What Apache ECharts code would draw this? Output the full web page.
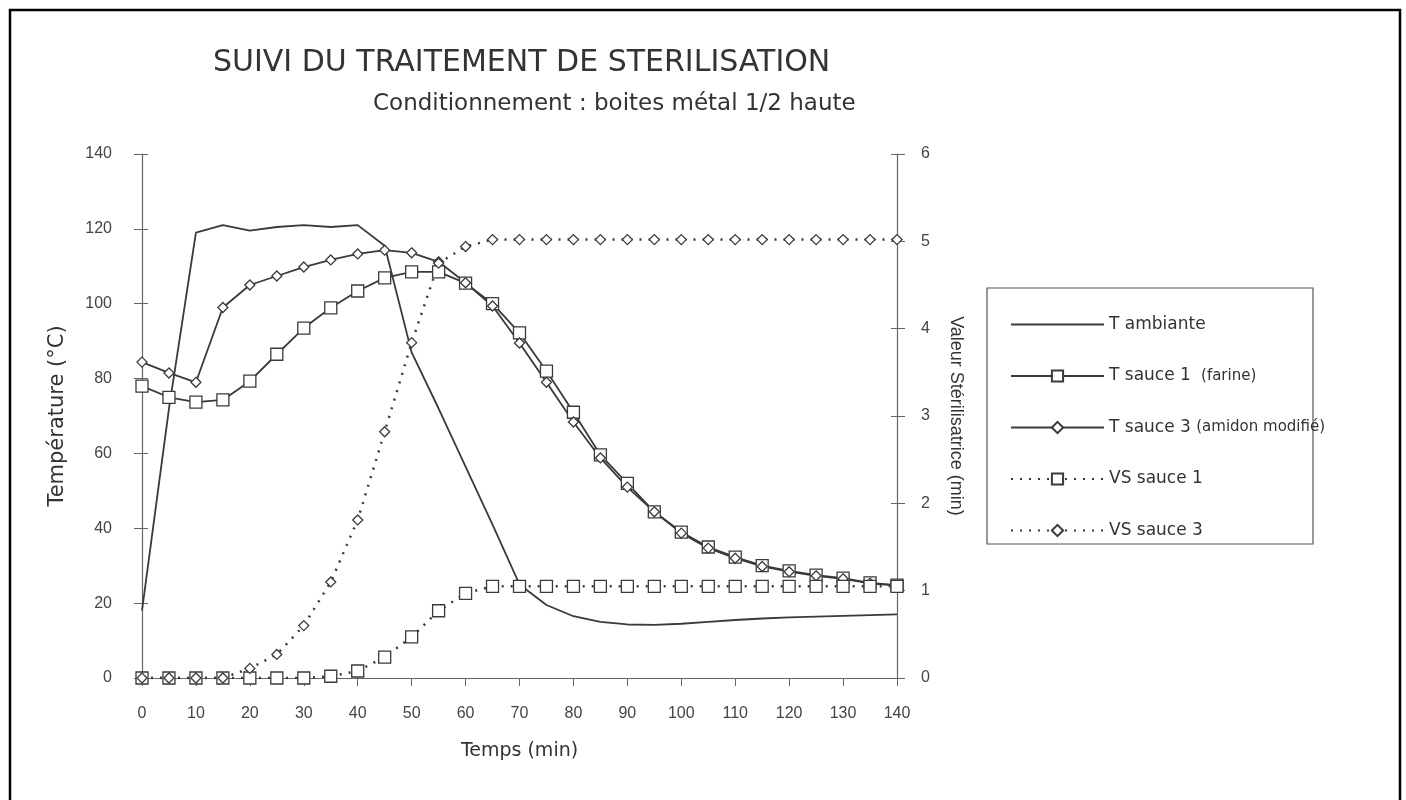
<!DOCTYPE html>
<html>
<head>
<meta charset="utf-8">
<title>Suivi du traitement de stérilisation</title>
<script src="https://cdn.jsdelivr.net/npm/echarts@6/dist/echarts.min.js"></script>
<style>
  html, body { margin: 0; padding: 0; background: #fff; }
  #chart { width: 1406px; height: 800px; }
</style>
</head>
<body>
<div id="chart"></div>
<script>
// Data (time in minutes, every 5 min)
const temps = [0, 5, 10, 15, 20, 25, 30, 35, 40, 45, 50, 55, 60, 65, 70,
               75, 80, 85, 90, 95, 100, 105, 110, 115, 120, 125, 130, 135, 140];

const tAmbiante = [18, 72, 119, 121, 119.5, 120.5, 121, 120.5, 121, 115.5, 87, 72, 56.5, 41, 25,
                   19.5, 16.5, 15, 14.3, 14.2, 14.5, 15, 15.5, 15.9, 16.2, 16.4, 16.6, 16.8, 17];

const tSauce1 = [78, 75, 73.7, 74.3, 79.3, 86.5, 93.5, 98.9, 103.4, 106.9, 108.5, 108.5, 105.5, 100, 92.2,
                 82, 71, 59.6, 52, 44.4, 39, 35, 32.3, 30, 28.6, 27.5, 26.7, 25.4, 24.8];

const tSauce3 = [84.4, 81.5, 79, 99, 105, 107.4, 109.8, 111.7, 113.3, 114.3, 113.6, 111.2, 105.6, 99.4, 89.5,
                 79, 68.4, 58.8, 51, 44.4, 38.7, 34.7, 32, 29.8, 28.4, 27.3, 26.5, 25.3, 24.7];

const vsSauce1 = [0, 0, 0, 0, 0, 0, 0, 0.02, 0.08, 0.24, 0.47, 0.77, 0.97, 1.05, 1.05,
                  1.05, 1.05, 1.05, 1.05, 1.05, 1.05, 1.05, 1.05, 1.05, 1.05, 1.05, 1.05, 1.05, 1.05];

const vsSauce3 = [0, 0, 0, 0, 0.11, 0.27, 0.6, 1.1, 1.81, 2.82, 3.84, 4.75, 4.94, 5.02, 5.02,
                  5.02, 5.02, 5.02, 5.02, 5.02, 5.02, 5.02, 5.02, 5.02, 5.02, 5.02, 5.02, 5.02, 5.02];

const seriesNames = ['T ambiante', 'T sauce 1', 'T sauce 3', 'VS sauce 1', 'VS sauce 3'];
const legendNotes = { 'T sauce 1': ' (farine)', 'T sauce 3': '(amidon modifié)' };

const ink = '#3a3a3a';
const font = 'Liberation Sans, Arial, sans-serif';
const wideFont = 'DejaVu Sans, Liberation Sans, sans-serif';

function pairs(values) {
    return temps.map((t, i) => [t, values[i]]);
}

// plain axis used only to draw the inner half of the crossing ticks
function innerTicks(max, interval, position) {
    return {
        type: 'value', min: 0, max: max, interval: interval, position: position,
        axisLine: { show: false },
        axisTick: { show: true, inside: true, length: 6, lineStyle: { color: '#666' } },
        axisLabel: { show: false },
        splitLine: { show: false }
    };
}

const chart = echarts.init(document.getElementById('chart'));

chart.setOption({
    backgroundColor: '#fff',
    animation: false,
    textStyle: { fontFamily: font, color: ink },
    title: [
        {
            text: 'SUIVI DU TRAITEMENT DE STERILISATION',
            left: 208, top: 43,
            textStyle: { fontSize: 30, fontWeight: 'normal', color: '#333', fontFamily: wideFont }
        },
        {
            text: 'Conditionnement : boites métal 1/2 haute',
            left: 368, top: 88,
            textStyle: { fontSize: 23, fontWeight: 'normal', color: '#333', fontFamily: wideFont }
        }
    ],
    graphic: [
        // outer frame of the scanned page
        { type: 'rect', shape: { x: 10, y: 10, width: 1390, height: 810 },
          style: { fill: 'none', stroke: '#000', lineWidth: 2.5 }, silent: true },
        // legend box (text of one item overflows it, as in the original)
        { type: 'rect', shape: { x: 987, y: 288, width: 326, height: 256 },
          style: { fill: 'none', stroke: '#555', lineWidth: 1.2 }, silent: true }
    ],
    legend: {
        orient: 'vertical',
        left: 1005, top: 311,
        itemWidth: 93, itemHeight: 14, itemGap: 34.5,
        data: [
            { name: 'T ambiante', itemStyle: { opacity: 0 } },
            'T sauce 1', 'T sauce 3', 'VS sauce 1', 'VS sauce 3'
        ],
        formatter: name => legendNotes[name] ? name + ' {s|' + legendNotes[name] + '}' : name,
        textStyle: {
            fontSize: 17, color: '#333', fontFamily: wideFont,
            rich: { s: { fontSize: 15, color: '#333', fontFamily: wideFont } }
        }
    },
    grid: { left: 142, right: 509, top: 154, bottom: 122 },
    xAxis: {
        type: 'value', min: 0, max: 140, interval: 10,
        name: 'Temps (min)', nameLocation: 'middle', nameGap: 64,
        nameTextStyle: { fontSize: 19, color: '#333', fontFamily: wideFont },
        axisLine: { lineStyle: { color: '#666', width: 1.2 } },
        axisTick: { length: 8, lineStyle: { color: '#666' } },
        axisLabel: { fontSize: 16, color: '#444', margin: 28 },
        splitLine: { show: false }
    },
    yAxis: [
        {
            type: 'value', min: 0, max: 140, interval: 20,
            name: 'Température (°C)', nameLocation: 'middle', nameGap: 74,
            nameTextStyle: { fontSize: 21, color: '#333', fontFamily: wideFont },
            axisLine: { show: true, lineStyle: { color: '#666', width: 1.2 } },
            axisTick: { show: true, length: 8, lineStyle: { color: '#666' } },
            axisLabel: { fontSize: 16, color: '#444', margin: 30 },
            splitLine: { show: false }
        },
        {
            type: 'value', min: 0, max: 6, interval: 1, position: 'right',
            name: 'Valeur Stérilisatrice (min)', nameLocation: 'middle', nameGap: 50, nameRotate: -90,
            nameTextStyle: { fontSize: 18, color: '#333', fontFamily: font },
            axisLine: { show: true, lineStyle: { color: '#666', width: 1.2 } },
            axisTick: { show: true, length: 8, lineStyle: { color: '#666' } },
            axisLabel: { fontSize: 16, color: '#444', margin: 24 },
            splitLine: { show: false }
        },
        innerTicks(140, 20, 'left'),
        innerTicks(6, 1, 'right')
    ],
    series: [
        {
            name: 'T ambiante', type: 'line', yAxisIndex: 0,
            data: pairs(tAmbiante), showSymbol: false, symbol: 'none',
            lineStyle: { color: ink, width: 1.8 }, itemStyle: { color: ink }
        },
        {
            name: 'T sauce 1', type: 'line', yAxisIndex: 0,
            data: pairs(tSauce1), symbol: 'rect', symbolSize: 12,
            lineStyle: { color: ink, width: 1.8 },
            itemStyle: { color: '#fff', borderColor: ink, borderWidth: 1.3 }
        },
        {
            name: 'T sauce 3', type: 'line', yAxisIndex: 0,
            data: pairs(tSauce3), symbol: 'diamond', symbolSize: 10,
            lineStyle: { color: ink, width: 1.8 },
            itemStyle: { color: '#fff', borderColor: ink, borderWidth: 1.3 }
        },
        {
            name: 'VS sauce 1', type: 'line', yAxisIndex: 1,
            data: pairs(vsSauce1), symbol: 'rect', symbolSize: 12,
            lineStyle: { color: ink, width: 2.5, type: [2, 7] },
            itemStyle: { color: '#fff', borderColor: ink, borderWidth: 1.3 }
        },
        {
            name: 'VS sauce 3', type: 'line', yAxisIndex: 1,
            data: pairs(vsSauce3), symbol: 'diamond', symbolSize: 10,
            lineStyle: { color: ink, width: 2.5, type: [2, 7] },
            itemStyle: { color: '#fff', borderColor: ink, borderWidth: 1.3 }
        }
    ]
});
</script>
</body>
</html>
